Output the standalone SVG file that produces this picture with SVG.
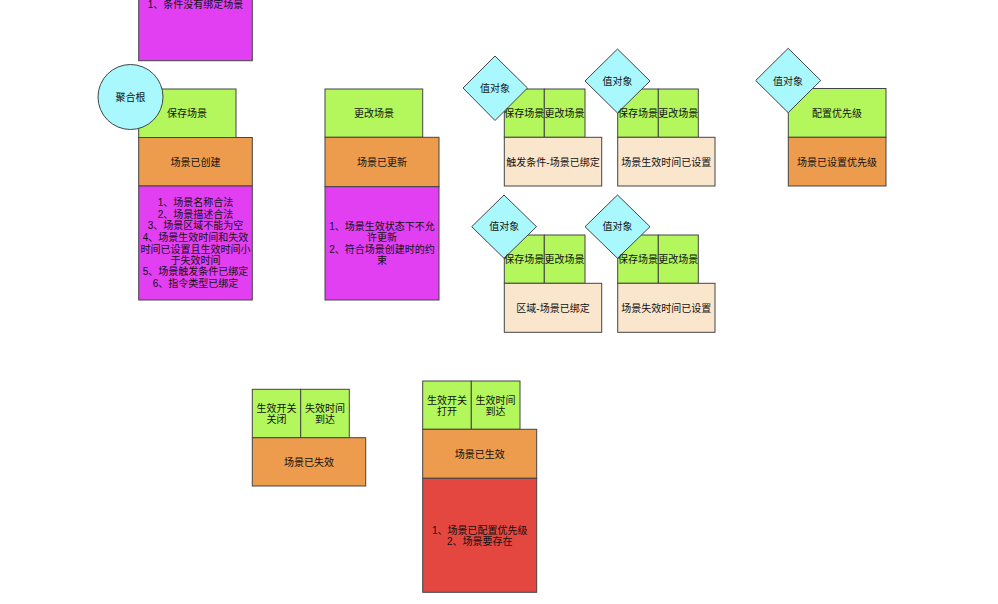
<svg xmlns="http://www.w3.org/2000/svg" width="998" height="604" viewBox="0 0 998 604">
<style>
text{font-family:"Liberation Sans","Noto Sans CJK SC",sans-serif;font-size:10px;fill:#111;text-anchor:middle;dominant-baseline:central}
.g,.o,.m,.b,.c,.r{stroke:#444;stroke-width:1}
.g{fill:#b3f75c}.o{fill:#ec9c4c}.m{fill:#e33ff2}.b{fill:#fae5cd}.c{fill:#a9f8fd}.r{fill:#e3473f}
</style>
<rect width="998" height="604" fill="#fff"/>
<g id="connectors"/>
<g id="rule-top">
<rect class="m" x="138.7" y="-60" width="113.6" height="120.7"/>
<text x="195.5" y="4">1、条件没有绑定场景</text>
</g>
<g id="cmd-save">
<rect class="g" x="138.7" y="89" width="97.3" height="48.5"/>
<text x="187" y="113">保存场景</text>
</g>
<g id="evt-created">
<rect class="o" x="138.7" y="137.5" width="113.6" height="48.5"/>
<text x="195.5" y="162">场景已创建</text>
</g>
<g id="rule-created">
<rect class="m" x="138.7" y="186" width="113.6" height="114"/>
<text x="195.5" y="202.7">1、场景名称合法</text>
<text x="195.5" y="214.2">2、场景描述合法</text>
<text x="195.5" y="225.9">3、场景区域不能为空</text>
<text x="195.5" y="237.8">4、场景生效时间和失效</text>
<text x="195.5" y="249.3">时间已设置且生效时间小</text>
<text x="195.5" y="260.6">于失效时间</text>
<text x="195.5" y="271.9">5、场景触发条件已绑定</text>
<text x="195.5" y="283.3">6、指令类型已绑定</text>
</g>
<g id="aggregate-root">
<circle class="c" cx="130.5" cy="97" r="32.5"/>
<text x="130.5" y="97">聚合根</text>
</g>
<g id="cmd-update">
<rect class="g" x="325" y="89" width="97.7" height="48.3"/>
<text x="374" y="113">更改场景</text>
</g>
<g id="evt-updated">
<rect class="o" x="325" y="137.3" width="114" height="49.4"/>
<text x="382" y="162">场景已更新</text>
</g>
<g id="rule-updated">
<rect class="m" x="325" y="186.7" width="114" height="113.3"/>
<text x="382" y="226.7">1、场景生效状态下不允</text>
<text x="382" y="237.6">许更新</text>
<text x="382" y="249.3">2、符合场景创建时的约</text>
<text x="382" y="260.6">束</text>
</g>
<g id="vo-trigger">
<rect class="g" x="504.3" y="89" width="40" height="48.3"/>
<rect class="g" x="544.3" y="89" width="40.7" height="48.3"/>
<rect class="b" x="504.3" y="137.3" width="97.4" height="48.7"/>
<polygon class="c" points="495,56 527.5,88 495,120.5 463,88"/>
<text x="495" y="88">值对象</text>
<text x="524.3" y="113.3">保存场景</text>
<text x="564.6" y="113.3">更改场景</text>
<text x="553" y="162">触发条件-场景已绑定</text>
</g>
<g id="vo-effective-time">
<rect class="g" x="617.7" y="89" width="40.6" height="48.3"/>
<rect class="g" x="658.3" y="89" width="40" height="48.3"/>
<rect class="b" x="617.7" y="137.3" width="97.3" height="48.7"/>
<polygon class="c" points="617.5,49 650,81 617.5,113 585,81"/>
<text x="617.5" y="81.5">值对象</text>
<text x="638" y="113.3">保存场景</text>
<text x="678.3" y="113.3">更改场景</text>
<text x="666.3" y="162">场景生效时间已设置</text>
</g>
<g id="vo-area">
<rect class="g" x="504.3" y="235" width="40" height="48.3"/>
<rect class="g" x="544.3" y="235" width="40.7" height="48.3"/>
<rect class="b" x="504.3" y="283.3" width="97.4" height="49"/>
<polygon class="c" points="504,195 536.5,226.7 504,258.3 471.7,226.7"/>
<text x="504.3" y="226.7">值对象</text>
<text x="524.3" y="259.3">保存场景</text>
<text x="564.6" y="259.3">更改场景</text>
<text x="553" y="308">区域-场景已绑定</text>
</g>
<g id="vo-expire-time">
<rect class="g" x="617.7" y="235" width="40.6" height="48.3"/>
<rect class="g" x="658.3" y="235" width="40" height="48.3"/>
<rect class="b" x="617.7" y="283.3" width="97.3" height="49"/>
<polygon class="c" points="617.5,195 650,226.7 617.5,258.3 585,226.7"/>
<text x="617.5" y="226.7">值对象</text>
<text x="638" y="259.3">保存场景</text>
<text x="678.3" y="259.3">更改场景</text>
<text x="666.3" y="308">场景失效时间已设置</text>
</g>
<g id="vo-priority">
<rect class="g" x="788.3" y="88.5" width="97.7" height="48.8"/>
<rect class="o" x="788.3" y="137.3" width="97.7" height="48.7"/>
<polygon class="c" points="788.2,48.3 820.7,80.5 788.2,112.7 755.7,80.5"/>
<text x="788" y="81.5">值对象</text>
<text x="837" y="113">配置优先级</text>
<text x="837" y="162">场景已设置优先级</text>
</g>
<g id="evt-invalid">
<rect class="g" x="252.3" y="389.3" width="48.4" height="48.4"/>
<rect class="g" x="300.7" y="389.3" width="48.6" height="48.4"/>
<rect class="o" x="252.3" y="437.7" width="113.4" height="48.3"/>
<text x="276.5" y="408.3">生效开关</text>
<text x="276.5" y="419.5">关闭</text>
<text x="325" y="408.3">失效时间</text>
<text x="325" y="419.5">到达</text>
<text x="309" y="462.7">场景已失效</text>
</g>
<g id="evt-effective">
<rect class="g" x="422.7" y="381" width="48.6" height="48.3"/>
<rect class="g" x="471.3" y="381" width="48.7" height="48.3"/>
<rect class="o" x="422.7" y="429.3" width="114" height="49"/>
<rect class="r" x="422.7" y="478.3" width="114" height="114"/>
<text x="447" y="400">生效开关</text>
<text x="447" y="411">打开</text>
<text x="495.6" y="400">生效时间</text>
<text x="495.6" y="411">到达</text>
<text x="479.7" y="454.3">场景已生效</text>
<text x="479.7" y="530.3">1、场景已配置优先级</text>
<text x="479.7" y="541.5">2、场景要存在</text>
</g>
</svg>
